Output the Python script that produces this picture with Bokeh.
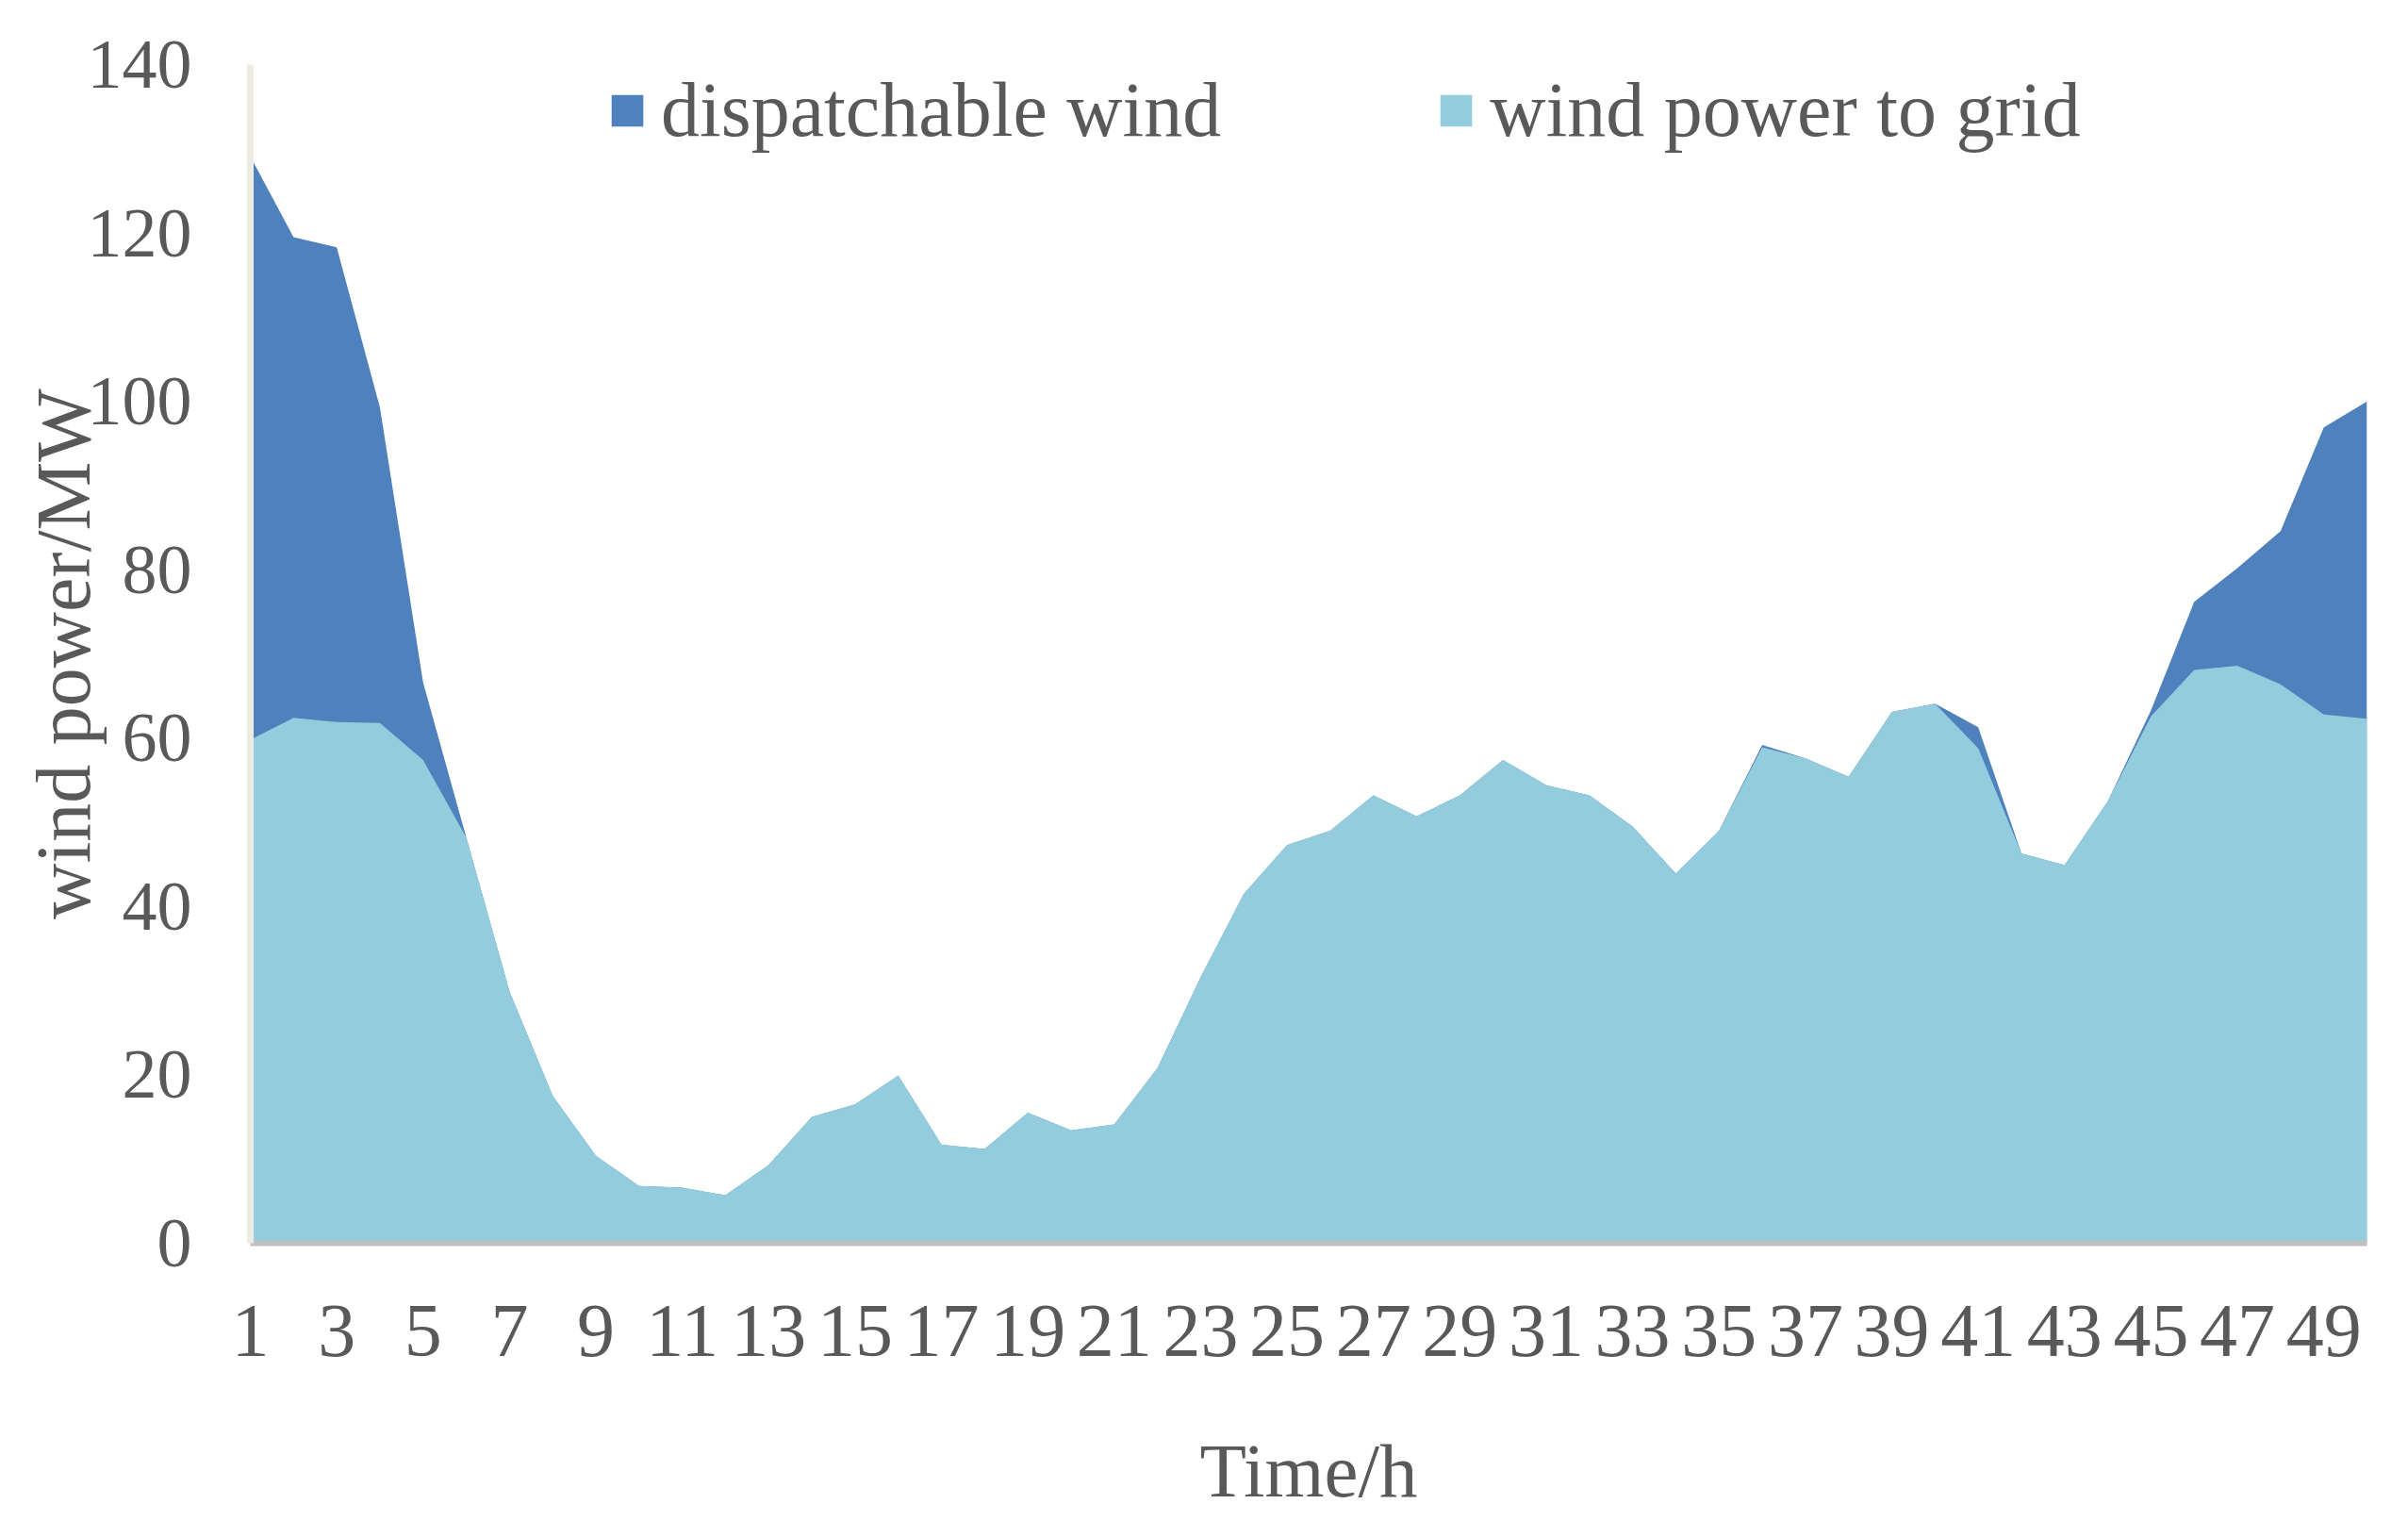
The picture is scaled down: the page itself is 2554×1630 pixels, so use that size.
from bokeh.plotting import figure
from bokeh.models import Range1d, FixedTicker, Legend, LegendItem, ColumnDataSource
from bokeh.embed import file_html
from bokeh.resources import INLINE

# ---- data -----------------------------------------------------------------
hours = list(range(1, 51))

dispatchable_wind = [129.1, 119.5, 118.3, 99.3, 66.6, 48.2, 29.9, 17.5, 10.4, 6.8,
                     6.6, 5.7, 9.3, 15.0, 16.5, 19.9, 11.7, 11.2, 15.5, 13.4,
                     14.1, 20.8, 31.6, 41.5, 47.3, 49.0, 53.2, 50.7, 53.2, 57.4,
                     54.4, 53.2, 49.5, 43.9, 49.0, 59.2, 57.6, 55.4, 63.1, 64.1,
                     61.3, 46.3, 44.9, 52.5, 63.3, 76.2, 80.2, 84.6, 96.9, 100.0]

wind_power_to_grid = [59.8, 62.4, 61.9, 61.8, 57.4, 48.2, 29.9, 17.5, 10.4, 6.8,
                      6.6, 5.7, 9.3, 15.0, 16.5, 19.9, 11.7, 11.2, 15.5, 13.4,
                      14.1, 20.8, 31.6, 41.5, 47.3, 49.0, 53.2, 50.7, 53.2, 57.4,
                      54.4, 53.2, 49.5, 43.9, 49.0, 58.9, 57.6, 55.4, 63.1, 64.1,
                      58.8, 46.3, 44.9, 52.5, 62.6, 68.1, 68.6, 66.4, 62.8, 62.3]

x_ticks = list(range(1, 50, 2))
y_ticks = [0, 20, 40, 60, 80, 100, 120, 140]

series_names = ["dispatchable wind", "wind power to grid"]
series_colors = ["#4F81BD", "#93CDDD"]

# ---- figure ---------------------------------------------------------------
FONT = "Liberation Serif"
TXT = "#595959"

source = ColumnDataSource(data=dict(h=hours, disp=dispatchable_wind, grid=wind_power_to_grid))

p = figure(width=2538, height=1614, output_backend="svg", toolbar_location=None,
           x_range=Range1d(1, 50), y_range=Range1d(0, 140),
           min_border_left=265, min_border_right=28,
           min_border_top=68, min_border_bottom=296)

r1 = p.varea(x="h", y1=0, y2="disp", source=source, fill_color=series_colors[0])
r2 = p.varea(x="h", y1=0, y2="grid", source=source, fill_color=series_colors[1])

p.grid.visible = False
p.outline_line_color = None
p.background_fill_color = "white"
p.border_fill_color = "white"

# x axis
xa = p.xaxis[0]
xa.ticker = FixedTicker(ticks=x_ticks)
xa.major_tick_line_color = None
xa.minor_tick_line_color = None
xa.major_tick_out = 0
xa.major_tick_in = 0
xa.minor_tick_out = 0
xa.axis_line_color = "#BFBFBF"
xa.axis_line_width = 6
xa.major_label_text_font = FONT
xa.major_label_text_font_size = "80px"
xa.major_label_text_color = TXT
xa.major_label_standoff = 66
xa.axis_label = "Time/h"
xa.axis_label_text_font = FONT
xa.axis_label_text_font_size = "81px"
xa.axis_label_text_font_style = "normal"
xa.axis_label_text_color = TXT
xa.axis_label_standoff = 74

# y axis
ya = p.yaxis[0]
ya.ticker = FixedTicker(ticks=y_ticks)
ya.major_tick_line_color = None
ya.minor_tick_line_color = None
ya.major_tick_out = 0
ya.major_tick_in = 0
ya.minor_tick_out = 0
ya.axis_line_color = "#EEECE1"
ya.axis_line_width = 7
ya.major_label_text_font = FONT
ya.major_label_text_font_size = "74px"
ya.major_label_text_color = TXT
ya.major_label_standoff = 62
ya.axis_label = "wind power/MW"
ya.axis_label_text_font = FONT
ya.axis_label_text_font_size = "82px"
ya.axis_label_text_font_style = "normal"
ya.axis_label_text_color = TXT
ya.axis_label_standoff = -23

# legend
legend = Legend(items=[LegendItem(label=series_names[0], renderers=[r1]),
                       LegendItem(label=series_names[1], renderers=[r2])],
                orientation="horizontal", location=(379, 1154),
                background_fill_alpha=0, border_line_color=None,
                padding=0, margin=0, spacing=228, label_standoff=15,
                glyph_width=42, glyph_height=42,
                label_text_font=FONT, label_text_font_size="82px",
                label_text_color=TXT)
p.add_layout(legend)

open("out.html", "w").write(file_html(p, INLINE))
